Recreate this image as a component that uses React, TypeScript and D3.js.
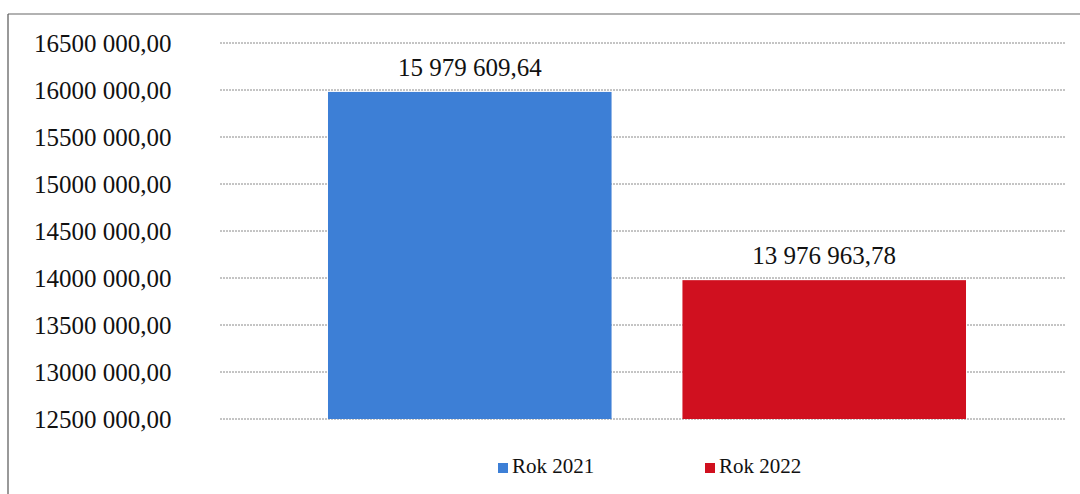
import React, { useEffect, useRef } from "react";
import * as d3 from "d3";

const categories = [""];
const seriesNames = ["Rok 2021", "Rok 2022"];
const seriesValues = [15979609.64, 13976963.78];
const seriesColors = ["#3d7fd6", "#d0101f"];
const yTicks = [12500000, 13000000, 13500000, 14000000, 14500000, 15000000, 15500000, 16000000, 16500000];

const W = 1080;
const H = 494;
const SERIF = "Times New Roman";

function fmtAxis(v: number): string {
  const s = v.toFixed(2).replace(".", ",");
  const [int, dec] = s.split(",");
  return `${int.slice(0, int.length - 3)} ${int.slice(-3)},${dec}`;
}

function fmtLabel(v: number): string {
  const s = v.toFixed(2);
  const [int, dec] = s.split(".");
  const parts: string[] = [];
  for (let i = int.length; i > 0; i -= 3) parts.unshift(int.slice(Math.max(0, i - 3), i));
  return `${parts.join(" ")},${dec}`;
}

export default function App() {
  const ref = useRef<SVGSVGElement | null>(null);

  useEffect(() => {
    const svg = d3.select(ref.current as SVGSVGElement);
    svg.selectAll("*").remove();
    const plotL = 220;
    const plotR = 1066;
    const y = d3.scaleLinear().domain([12500000, 16500000]).range([419, 43]);
    const x0 = d3.scaleBand<string>().domain(categories).range([plotL + 4, plotR + 4]).paddingInner(0).paddingOuter(0.163);
    const x1 = d3.scaleBand<string>().domain(seriesNames).range([0, x0.bandwidth()]).paddingInner(0.2).paddingOuter(0);

    svg.append("line").attr("x1", 8).attr("x2", W).attr("y1", 14).attr("y2", 14).attr("stroke", "#666").attr("stroke-width", 1.2);
    svg.append("line").attr("x1", 8).attr("x2", 8).attr("y1", 14).attr("y2", H).attr("stroke", "#555").attr("stroke-width", 1.2);

    const tg = svg.selectAll("g.tick").data(yTicks).join("g").attr("class", "tick");
    tg.append("line")
      .attr("x1", plotL).attr("x2", plotR)
      .attr("y1", (d) => y(d)).attr("y2", (d) => y(d))
      .attr("stroke", "#8a8a8a").attr("stroke-width", 1).attr("stroke-dasharray", "2,1");
    tg.append("text")
      .attr("x", 34).attr("y", (d) => y(d) + 8.5)
      .attr("font-size", 25).attr("font-family", SERIF).style("font-family", SERIF).attr("fill", "#111")
      .text((d) => fmtAxis(d));

    const cg = svg.selectAll("g.cat").data(categories).join("g").attr("class", "cat")
      .attr("transform", (c) => `translate(${x0(c)},0)`);
    const sg = cg.selectAll("g.ser").data(seriesNames.map((s, i) => ({ s, v: seriesValues[i], c: seriesColors[i] })))
      .join("g").attr("class", "ser");
    sg.append("rect")
      .attr("x", (d) => x1(d.s) as number).attr("y", (d) => y(d.v))
      .attr("width", x1.bandwidth()).attr("height", (d) => y(12500000) - y(d.v))
      .attr("fill", (d) => d.c);
    sg.append("text")
      .attr("x", (d) => (x1(d.s) as number) + x1.bandwidth() / 2).attr("y", (d) => y(d.v) - 16)
      .attr("text-anchor", "middle").attr("font-size", 25).attr("font-family", SERIF).style("font-family", SERIF)
      .attr("fill", "#111").text((d) => fmtLabel(d.v));

    const legendX = [498, 705];
    const lg = svg.selectAll("g.leg").data(seriesNames).join("g").attr("class", "leg");
    lg.append("rect").attr("x", (_, i) => legendX[i]).attr("y", 463).attr("width", 10).attr("height", 10)
      .attr("fill", (_, i) => seriesColors[i]);
    lg.append("text").attr("x", (_, i) => legendX[i] + 14).attr("y", 473)
      .attr("font-size", 21).attr("font-family", SERIF).style("font-family", SERIF).attr("fill", "#111")
      .text((d) => d);
  }, []);

  return <svg ref={ref} width={W} height={H} style={{ position: "absolute", left: 0, top: 0 }} />;
}
